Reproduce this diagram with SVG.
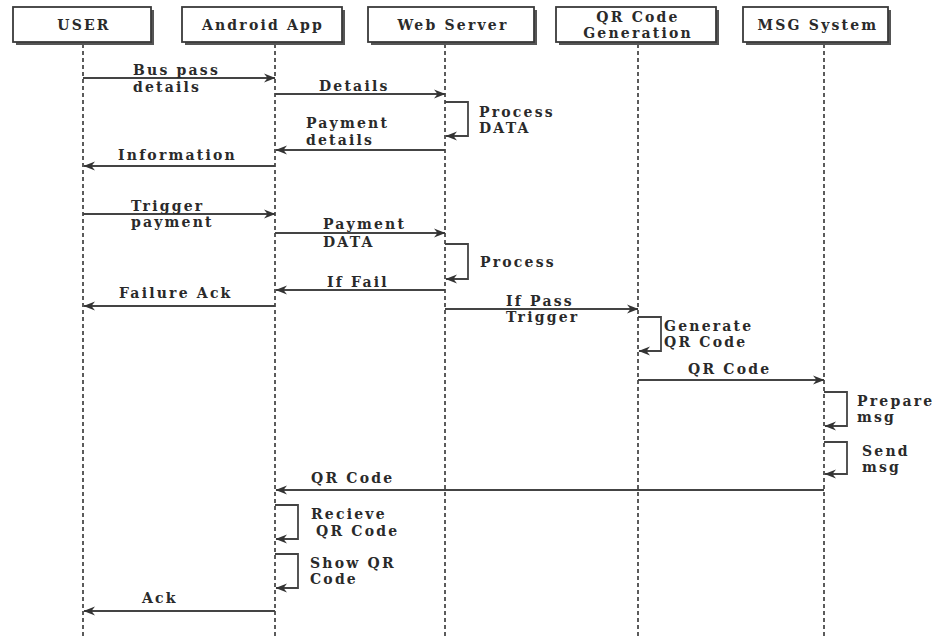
<svg xmlns="http://www.w3.org/2000/svg" width="942" height="636" viewBox="0 0 942 636">
  <style>
    .box { fill: #ffffff; stroke: #3a3a3a; stroke-width: 1.8; }
    .shadow { fill: #555555; }
    .title { font-family: "DejaVu Serif", "Liberation Serif", serif; font-weight: bold; font-size: 14px; letter-spacing: 2.2px; fill: #2a2a2a; text-anchor: middle; }
    .life { stroke: #333333; stroke-width: 1.6; stroke-dasharray: 4 3; fill: none; }
    .msg { stroke: #444444; stroke-width: 1.8; fill: none; marker-end: url(#arrow); }
    .lbl { font-family: "DejaVu Serif", "Liberation Serif", serif; font-weight: bold; font-size: 14px; letter-spacing: 2.2px; fill: #2a2a2a; }
  </style>
  <defs>
    <marker id="arrow" viewBox="0 0 12 10" refX="11" refY="5" markerWidth="12" markerHeight="10" markerUnits="userSpaceOnUse" orient="auto">
      <path d="M0,0.5 L11.5,5 L0,9.5 L3.5,5 Z" fill="#333333"/>
    </marker>
  </defs>
  <rect width="942" height="636" fill="#ffffff"/>

  <!-- lifelines -->
  <g id="lifelines">
    <line class="life" x1="83" y1="44" x2="83" y2="636"/>
    <line class="life" x1="275" y1="44" x2="275" y2="636"/>
    <line class="life" x1="445" y1="44" x2="445" y2="636"/>
    <line class="life" x1="638" y1="44" x2="638" y2="636"/>
    <line class="life" x1="824" y1="44" x2="824" y2="636"/>
  </g>

  <!-- participants -->
  <g id="user">
    <rect class="shadow" x="16" y="10" width="138" height="35"/>
    <rect class="box" x="13" y="7" width="138" height="35"/>
    <text class="title" x="84" y="30">USER</text>
  </g>
  <g id="android-app">
    <rect class="shadow" x="185" y="10" width="160" height="35"/>
    <rect class="box" x="182" y="7" width="160" height="35"/>
    <text class="title" x="263" y="30">Android App</text>
  </g>
  <g id="web-server">
    <rect class="shadow" x="371" y="10" width="166" height="35"/>
    <rect class="box" x="368" y="7" width="166" height="35"/>
    <text class="title" x="453" y="30">Web Server</text>
  </g>
  <g id="qr-code-generation">
    <rect class="shadow" x="559" y="10" width="160" height="35"/>
    <rect class="box" x="556" y="7" width="160" height="35"/>
    <text class="title" x="638" y="22">QR Code</text>
    <text class="title" x="638" y="38">Generation</text>
  </g>
  <g id="msg-system">
    <rect class="shadow" x="746" y="10" width="145" height="35"/>
    <rect class="box" x="743" y="7" width="145" height="35"/>
    <text class="title" x="818" y="30">MSG System</text>
  </g>

  <!-- messages -->
  <g id="connectors">
    <line class="msg" x1="83" y1="78" x2="275" y2="78"/>
    <line class="msg" x1="275" y1="94" x2="445" y2="94"/>
    <polyline class="msg" points="445,102 468,102 468,136 446,136"/>
    <line class="msg" x1="445" y1="150" x2="276" y2="150"/>
    <line class="msg" x1="275" y1="166" x2="84" y2="166"/>

    <line class="msg" x1="83" y1="214" x2="275" y2="214"/>
    <line class="msg" x1="275" y1="233" x2="445" y2="233"/>
    <polyline class="msg" points="445,244 468,244 468,279 446,279"/>
    <line class="msg" x1="445" y1="290" x2="276" y2="290"/>
    <line class="msg" x1="275" y1="306" x2="84" y2="306"/>
    <line class="msg" x1="445" y1="309" x2="638" y2="309"/>
    <polyline class="msg" points="638,317 661,317 661,351 639,351"/>
    <line class="msg" x1="638" y1="380" x2="824" y2="380"/>
    <polyline class="msg" points="824,392 847,392 847,426 825,426"/>
    <polyline class="msg" points="824,442 847,442 847,474 825,474"/>
    <line class="msg" x1="824" y1="490" x2="276" y2="490"/>
    <polyline class="msg" points="275,505 298,505 298,539 276,539"/>
    <polyline class="msg" points="275,554 298,554 298,588 276,588"/>
    <line class="msg" x1="275" y1="611" x2="84" y2="611"/>
  </g>

  <!-- message labels -->
  <g id="labels">
    <text class="lbl" x="133" y="75">Bus pass</text>
    <text class="lbl" x="133" y="92">details</text>
    <text class="lbl" x="319" y="91">Details</text>
    <text class="lbl" x="479" y="117">Process</text>
    <text class="lbl" x="479" y="133">DATA</text>
    <text class="lbl" x="306" y="128">Payment</text>
    <text class="lbl" x="306" y="145">details</text>
    <text class="lbl" x="118" y="160">Information</text>

    <text class="lbl" x="131" y="211">Trigger</text>
    <text class="lbl" x="131" y="227">payment</text>
    <text class="lbl" x="323" y="229">Payment</text>
    <text class="lbl" x="323" y="247">DATA</text>
    <text class="lbl" x="480" y="267">Process</text>
    <text class="lbl" x="327" y="287">If Fail</text>
    <text class="lbl" x="119" y="298">Failure Ack</text>
    <text class="lbl" x="506" y="306">If Pass</text>
    <text class="lbl" x="506" y="322">Trigger</text>

    <text class="lbl" x="664" y="331">Generate</text>
    <text class="lbl" x="664" y="347">QR Code</text>
    <text class="lbl" x="688" y="374">QR Code</text>
    <text class="lbl" x="857" y="406">Prepare</text>
    <text class="lbl" x="857" y="422">msg</text>
    <text class="lbl" x="862" y="456">Send</text>
    <text class="lbl" x="862" y="472">msg</text>

    <text class="lbl" x="311" y="483">QR Code</text>
    <text class="lbl" x="311" y="519">Recieve</text>
    <text class="lbl" x="316" y="536">QR Code</text>
    <text class="lbl" x="310" y="568">Show QR</text>
    <text class="lbl" x="310" y="584">Code</text>
    <text class="lbl" x="142" y="603">Ack</text>
  </g>
</svg>
